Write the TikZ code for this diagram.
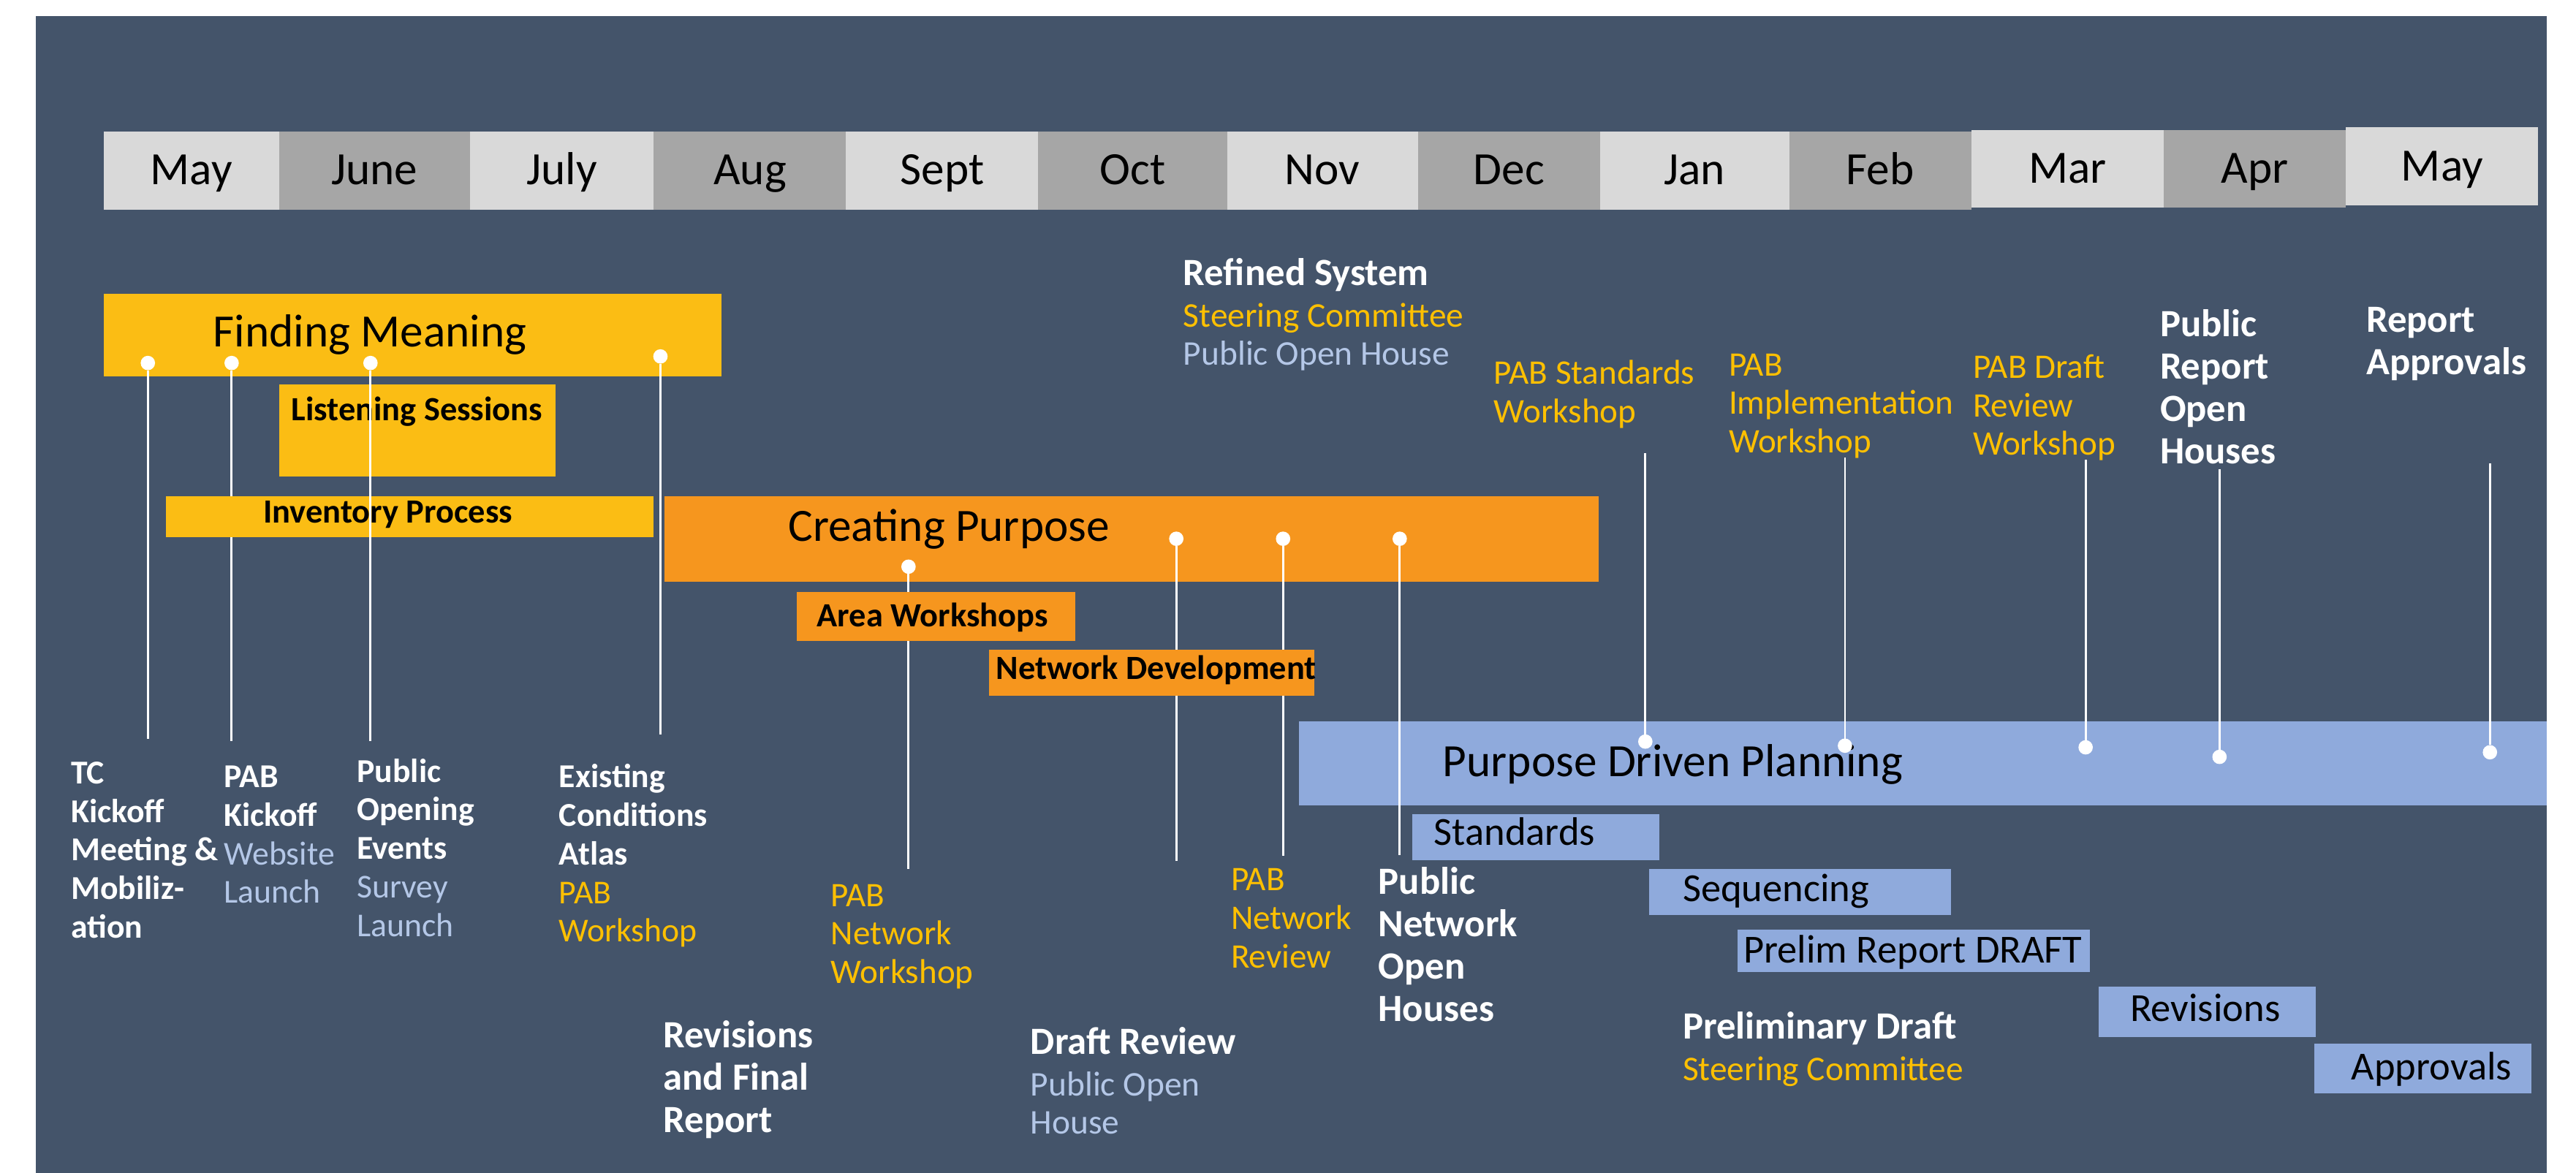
\documentclass[tikz,border=0pt]{standalone}
\usepackage{fontspec}
\setmainfont{Carlito}
\usepackage{tikz}
\usetikzlibrary{positioning}

\definecolor{slate}{HTML}{44546A}
\definecolor{monthlt}{HTML}{D9D9D9}
\definecolor{monthdk}{HTML}{A6A6A6}
\definecolor{gold}{HTML}{FBBD14}
\definecolor{tangerine}{HTML}{F6961E}
\definecolor{skyblue}{HTML}{8FAADC}
\definecolor{goldtext}{HTML}{FFC000}
\definecolor{paletext}{HTML}{B4C7E7}

\newcommand{\goldline}[1]{{\mdseries\color{goldtext}#1}}
\newcommand{\paleline}[1]{{\mdseries\color{paletext}#1}}
\newcommand{\subgold}[1]{{\mdseries\fontsize{13.5}{15}\selectfont\color{goldtext}#1}}
\newcommand{\subpale}[1]{{\mdseries\fontsize{13.5}{15}\selectfont\color{paletext}#1}}

\begin{document}
\begin{tikzpicture}[x=0.022474cm, y=-0.022474cm]
  \tikzstyle{coord}=[inner sep=0pt, outer sep=0pt]
  \tikzstyle{monthtext}=[inner sep=0pt, anchor=base, font=\fontsize{18}{20}\selectfont]
  \tikzstyle{phasetext}=[inner sep=0pt, anchor=base west, font=\fontsize{18}{20}\selectfont]
  \tikzstyle{boxtext}=[inner sep=0pt, anchor=base west, font=\bfseries\fontsize{13.2}{15}\selectfont]
  \tikzstyle{stagetext}=[inner sep=0pt, anchor=base west, font=\fontsize{15.5}{17}\selectfont]
  \tikzstyle{event}=[inner sep=0pt, anchor=north west, align=left, text=white, font=\bfseries\fontsize{13}{15}\selectfont]
  \tikzstyle{bigevent}=[event, font=\bfseries\fontsize{15}{16.5}\selectfont]
  \tikzstyle{headline}=[event, font=\bfseries\fontsize{15}{14.8}\selectfont]
  \tikzstyle{pabevent}=[event, text=goldtext, font=\fontsize{13.4}{15}\selectfont]
  \tikzstyle{milestone}=[circle, fill=white, inner sep=0pt, outer sep=0pt, minimum size=5.6pt]
  \tikzstyle{stemline}=[white, line width=0.8pt]

  % page and background
  \fill[white] (0,0) rectangle (1568,714);
  \fill[slate] (22,10) rectangle (1550,714);

  % month bar
  \foreach \m/\xa/\xb/\ya/\shade [count=\i] in {May/63/170/80/monthlt, June/170/286/80/monthdk,
      July/286/398/80/monthlt, Aug/398/515/80/monthdk, Sept/515/632/80/monthlt, Oct/632/747/80/monthdk,
      Nov/747/863/80/monthlt, Dec/863/974/80/monthdk, Jan/974/1089/80/monthlt, Feb/1089/1200/80/monthdk,
      Mar/1200/1317/79/monthlt, Apr/1317/1428/79/monthdk, May/1428/1545/77.5/monthlt} {
    \fill[\shade] (\xa,\ya) rectangle (\xb,\ya+47.5);
    \node (month\i) at ({(\xa+\xb)/2},\ya+32.5) [monthtext] {\m};
  }

  % finding meaning
  \fill[gold] (63,179) rectangle (439,229);
  \node (findmeaning) at (129.5,211) [phasetext] {Finding Meaning};
  \fill[gold] (170,234) rectangle (338,290);
  \node (listening) at (177,256) [boxtext] {Listening Sessions};
  \foreach \x/\y/\ye [count=\i] in {90/221/450, 141/221/451, 225.5/221/451, 402/217/447} {
    \node (fmdot\i) at (\x,\y) [milestone] {};
    \coordinate (fmend\i) at (\x,\ye);
  }
  \draw[stemline] (fmdot1) -- (fmend1);
  \draw[stemline] (fmdot2) -- (fmend2);
  \fill[gold] (101,302) rectangle (398,327);
  \node (inventory) at (160,318.5) [boxtext] {Inventory Process};
  \draw[stemline] (fmdot3) -- (fmend3);
  \draw[stemline] (fmdot4) -- (fmend4);

  % creating purpose and purpose driven planning bars
  \fill[tangerine] (404.6,302) rectangle (973,354);
  \node (creating) at (479.5,329.5) [phasetext] {Creating Purpose};
  \fill[skyblue] (790.7,439) rectangle (1550,490.5);
  \node (purposedriven) at (878,472.8) [phasetext] {Purpose Driven Planning};

  \foreach \x/\y/\ye [count=\i] in {553/345/529, 716/328/524, 781/328/521, 852/328/520.6} {
    \node (cpdot\i) at (\x,\y) [milestone] {};
    \coordinate (cpend\i) at (\x,\ye);
    \draw[stemline] (cpdot\i) -- (cpend\i);
  }
  \fill[tangerine] (485,360.5) rectangle (654.6,390);
  \node (areaws) at (497,381.5) [boxtext] {Area Workshops};
  \fill[tangerine] (602,395.5) rectangle (800,423.7);
  \node (netdev) at (606,413.8) [boxtext] {Network Development};

  \foreach \x/\y/\yt [count=\i] in {1001.5/451.5/276, 1123/454/278.5, 1269.5/455/280, 1351/460.8/285.6, 1515.6/458/282} {
    \node (pdpdot\i) at (\x,\y) [milestone] {};
    \coordinate (pdptop\i) at (\x,\yt);
    \draw[stemline] (pdptop\i) -- (pdpdot\i);
  }

  % planning stages
  \fill[skyblue] (859.7,495.6) rectangle (1009.8,523.8);
  \node (standards) at (872.6,514.5) [stagetext] {Standards};
  \fill[skyblue] (1004,529) rectangle (1187.4,557);
  \node (sequencing) at (1024,549) [stagetext] {Sequencing};
  \fill[skyblue] (1057.7,566) rectangle (1272,592);
  \node (prelimrep) at (1061,586) [stagetext] {Prelim Report DRAFT};
  \fill[skyblue] (1277.5,600.5) rectangle (1409.6,631.4);
  \node (revisions) at (1296.4,622) [stagetext] {Revisions};
  \fill[skyblue] (1408.8,635.4) rectangle (1540.7,665.7);
  \node (approvals) at (1431,657.4) [stagetext] {Approvals};

  % milestone labels
  \node (tckickoff) at (43,463.5) [event] {TC\\Kickoff\\Meeting \&\\Mobiliz-\\ation};
  \node (pabkickoff) at (136,466) [event] {PAB\\Kickoff\\\paleline{Website}\\\paleline{Launch}};
  \node (pubopening) at (217,461.6) [event] {Public\\Opening\\Events\\\paleline{Survey}\\\paleline{Launch}};
  \node (existing) at (340,465) [event] {Existing\\Conditions\\Atlas\\\goldline{PAB}\\\goldline{Workshop}};
  \node (pabnetws) at (505.5,538) [pabevent] {PAB\\Network\\Workshop};
  \node (pabnetrev) at (749,528.5) [pabevent] {PAB\\Network\\Review};
  \node (pubnetopen) at (838.7,527.5) [bigevent] {Public\\Network\\Open\\Houses};
  \node (revfinal) at (403.5,621) [bigevent] {Revisions\\and Final\\Report};
  \node (draftrev) at (627,625) [headline] {Draft Review\\[1.4pt]\subpale{Public Open}\\\subpale{House}};
  \node (refined) at (720,157) [headline] {Refined System\\[1.4pt]\subgold{Steering Committee}\\\subpale{Public Open House}};
  \node (prelimdraft) at (1024,615.6) [headline] {Preliminary Draft\\[1.4pt]\subgold{Steering Committee}};
  \node (pabstd) at (909,219) [pabevent] {PAB Standards\\Workshop};
  \node (pabimpl) at (1052,215) [pabevent] {PAB\\Implementation\\Workshop};
  \node (pabdraft) at (1200.6,215.5) [pabevent] {PAB Draft\\Review\\Workshop};
  \node (pubrepopen) at (1314.5,188) [bigevent] {Public\\Report\\Open\\Houses};
  \node (repappr) at (1440,186.5) [bigevent] {Report\\Approvals};
\end{tikzpicture}
\end{document}
